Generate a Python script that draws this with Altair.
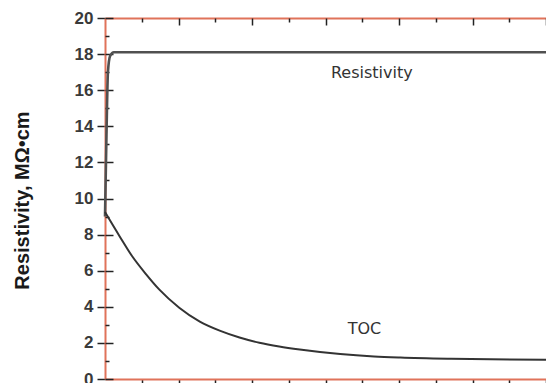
import altair as alt
import pandas as pd

# TOC curve (x in arbitrary time units, y on resistivity scale)
toc_x = [0.0, 0.20, 0.37, 0.56, 0.74, 1.01, 1.29, 1.56, 1.83, 2.10, 2.37, 2.65, 3.20, 3.66, 4.02, 4.71, 6.0]
toc_y = [9.25, 7.9, 6.8, 5.8, 4.95, 3.95, 3.18, 2.68, 2.30, 2.01, 1.80, 1.63, 1.38, 1.25, 1.19, 1.12, 1.06]

# Resistivity curve
res_x = [0.0, 0.02, 0.04, 0.07, 0.12, 6.0]
res_y = [9.0, 13.5, 17.0, 17.9, 18.1, 18.1]

# in-plot labels
label_text = ["Resistivity", "TOC"]
label_x = [3.63, 3.53]
label_y = [16.96, 2.76]

y_major = [0, 2, 4, 6, 8, 10, 12, 14, 16, 18, 20]
y_minor = [1, 3, 5, 7, 9, 11, 13, 15, 17, 19]
x_major = [1, 2, 3, 4, 5, 6]
x_minor = [0.5, 1.5, 2.5, 3.5, 4.5, 5.5]
x_bottom = [0.5, 1, 1.5, 2, 2.5, 3, 3.5, 4, 4.5, 5, 5.5, 6]

ORANGE = "#e0735a"
TICK = "#222222"

df = pd.concat([
    pd.DataFrame({"x": res_x, "y": res_y, "series": "Resistivity"}),
    pd.DataFrame({"x": toc_x, "y": toc_y, "series": "TOC"}),
], ignore_index=True)
lab = pd.DataFrame({"text": label_text, "x": label_x, "y": label_y})

xs = alt.Scale(domain=[0, 6], nice=False, zero=False)
ys = alt.Scale(domain=[0, 20], nice=False, zero=False)

base = alt.Chart(df)

# main lines + main left axis + top domain
lines = base.mark_line(interpolate="monotone").encode(
    x=alt.X("x:Q", scale=xs, axis=alt.Axis(orient="top", ticks=False, labels=False,
                                            domainColor=ORANGE, domainWidth=2, grid=False, title=None)),
    y=alt.Y("y:Q", scale=ys, axis=alt.Axis(
        orient="left", values=y_major, tickSize=8, tickColor=TICK, tickWidth=1.5,
        domainColor=ORANGE, domainWidth=2, grid=False,
        labelFont="Liberation Sans", labelFontWeight="bold", labelFontSize=17,
        labelColor="#3a3a3a", labelPadding=4,
        title="Resistivity, MΩ•cm", titleFont="Liberation Sans", titleFontWeight="bold",
        titleFontSize=20, titleColor="#1a1a1a", titleAngle=270, titleAlign="center",
        titleBaseline="middle", titleX=-83, titleY=182)),
    color=alt.Color("series:N", scale=alt.Scale(domain=["Resistivity", "TOC"],
                                                range=["#505050", "#333333"]), legend=None),
    strokeWidth=alt.StrokeWidth("series:N", scale=alt.Scale(domain=["Resistivity", "TOC"],
                                                            range=[2.6, 2.0]), legend=None),
)

inv = base.mark_line(strokeOpacity=0)

major_in = inv.encode(
    x=alt.X("x:Q", scale=xs, axis=alt.Axis(orient="top", values=x_major, offset=-7, tickSize=7,
                                            tickColor=TICK, tickWidth=1.5, labels=False,
                                            domain=False, grid=False, title=None)),
    y=alt.Y("y:Q", scale=ys, axis=alt.Axis(orient="left", values=y_major, offset=-8, tickSize=8,
                                            tickColor=TICK, tickWidth=1.5, labels=False,
                                            domain=False, grid=False, title=None)),
)

minor_in = inv.encode(
    x=alt.X("x:Q", scale=xs, axis=alt.Axis(orient="top", values=x_minor, offset=-4, tickSize=4,
                                            tickColor=TICK, tickWidth=1.5, labels=False,
                                            domain=False, grid=False, title=None)),
    y=alt.Y("y:Q", scale=ys, axis=alt.Axis(orient="left", values=y_minor, offset=-4, tickSize=4,
                                            tickColor=TICK, tickWidth=1.5, labels=False,
                                            domain=False, grid=False, title=None)),
)

bottom = inv.encode(
    x=alt.X("x:Q", scale=xs, axis=alt.Axis(orient="bottom", values=x_bottom, tickSize=8,
                                            tickColor=TICK, tickWidth=1.5, labels=False,
                                            domainColor=ORANGE, domainWidth=2, grid=False, title=None)),
    y=alt.Y("y:Q", scale=ys, axis=None),
)

texts = alt.Chart(lab).mark_text(font="DejaVu Sans", fontSize=16, color="#333333",
                                 baseline="middle", align="center").encode(
    x=alt.X("x:Q", scale=xs, axis=None),
    y=alt.Y("y:Q", scale=ys, axis=None),
    text="text:N",
)

chart = alt.layer(lines, major_in, minor_in, bottom, texts).resolve_axis(
    x="independent", y="independent"
).properties(
    width=441, height=361,
    padding={"left": 105, "top": 18, "right": 0, "bottom": 4},
    autosize=alt.AutoSizeParams(type="none"),
).configure_view(stroke=None).configure(background="white")

chart.save("out.html", embed_options={"renderer": "svg", "actions": False})
